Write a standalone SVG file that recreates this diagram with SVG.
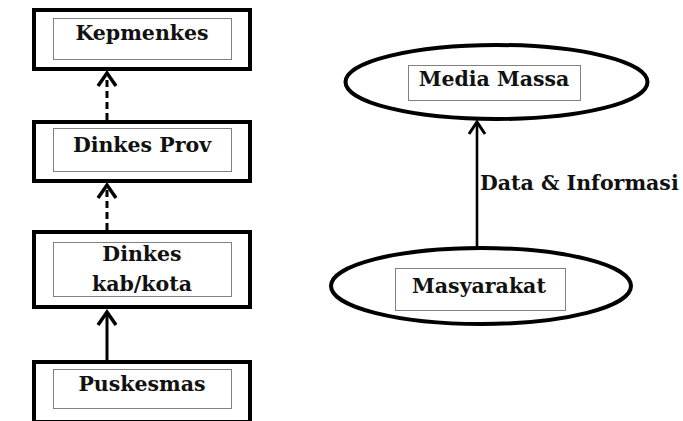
<svg xmlns="http://www.w3.org/2000/svg" width="683" height="421" viewBox="0 0 683 421">
<style>
  .box { fill: #fff; stroke: #000; stroke-width: 4; }
  .ell { fill: #fff; stroke: #000; stroke-width: 4; }
  .dot { fill: none; stroke: #000; stroke-width: 1; stroke-dasharray: 1 1; }
  .lbl { font-family: "DejaVu Serif", "Liberation Serif", serif; font-weight: bold; font-size: 20.5px; fill: #111; text-anchor: middle; }
  .edge { fill: none; stroke: #000; stroke-width: 3; }
  .dash { stroke-dasharray: 7 4; }
  .head { fill: none; stroke: #000; stroke-width: 3.5; stroke-linejoin: miter; }
</style>
<rect width="683" height="421" fill="#fff"/>
<g id="connectors">
  <line class="edge dash" x1="107" y1="120" x2="107" y2="74"/>
  <path class="head" d="M98,86 L107,73 L116,86"/>
  <line class="edge dash" x1="107" y1="230" x2="107" y2="186"/>
  <path class="head" d="M98,198 L107,185 L116,198"/>
  <line class="edge" x1="107" y1="360" x2="107" y2="313"/>
  <path class="head" d="M98,325 L107,312 L116,325"/>
  <line class="edge" x1="477" y1="248" x2="477" y2="123" style="stroke-width:2.6"/>
  <path class="head" d="M469,134 L477,122 L485,134" style="stroke-width:3"/>
  <text x="480" y="190" font-family="DejaVu Serif, Liberation Serif, serif" font-weight="bold" font-size="20.5" fill="#111">Data &amp; Informasi</text>
</g>
<g id="kepmenkes">
  <rect class="box" x="34" y="10" width="216" height="59"/>
  <rect class="dot" x="53.5" y="18.5" width="178" height="41"/>
  <text class="lbl" x="142" y="40">Kepmenkes</text>
</g>
<g id="dinkes-prov">
  <rect class="box" x="34" y="122" width="216" height="59"/>
  <rect class="dot" x="53.5" y="128.5" width="178" height="43"/>
  <text class="lbl" x="142" y="152">Dinkes Prov</text>
</g>
<g id="dinkes-kab">
  <rect class="box" x="34" y="232" width="216" height="75"/>
  <rect class="dot" x="53.5" y="242.5" width="178" height="54"/>
  <text class="lbl" x="142" y="261">Dinkes</text>
  <text class="lbl" x="142" y="291">kab/kota</text>
</g>
<g id="puskesmas">
  <rect class="box" x="34" y="362" width="216" height="60"/>
  <rect class="dot" x="53.5" y="369.5" width="178" height="39"/>
  <text class="lbl" x="142" y="391">Puskesmas</text>
</g>
<g id="media-massa">
  <ellipse class="ell" cx="496.5" cy="82" rx="151" ry="37"/>
  <rect class="dot" x="408.5" y="65.5" width="172" height="35"/>
  <text class="lbl" x="494" y="86">Media Massa</text>
</g>
<g id="masyarakat">
  <ellipse class="ell" cx="481" cy="286" rx="150" ry="38"/>
  <rect class="dot" x="395.5" y="268.5" width="170" height="42"/>
  <text class="lbl" x="479" y="293">Masyarakat</text>
</g>
</svg>
